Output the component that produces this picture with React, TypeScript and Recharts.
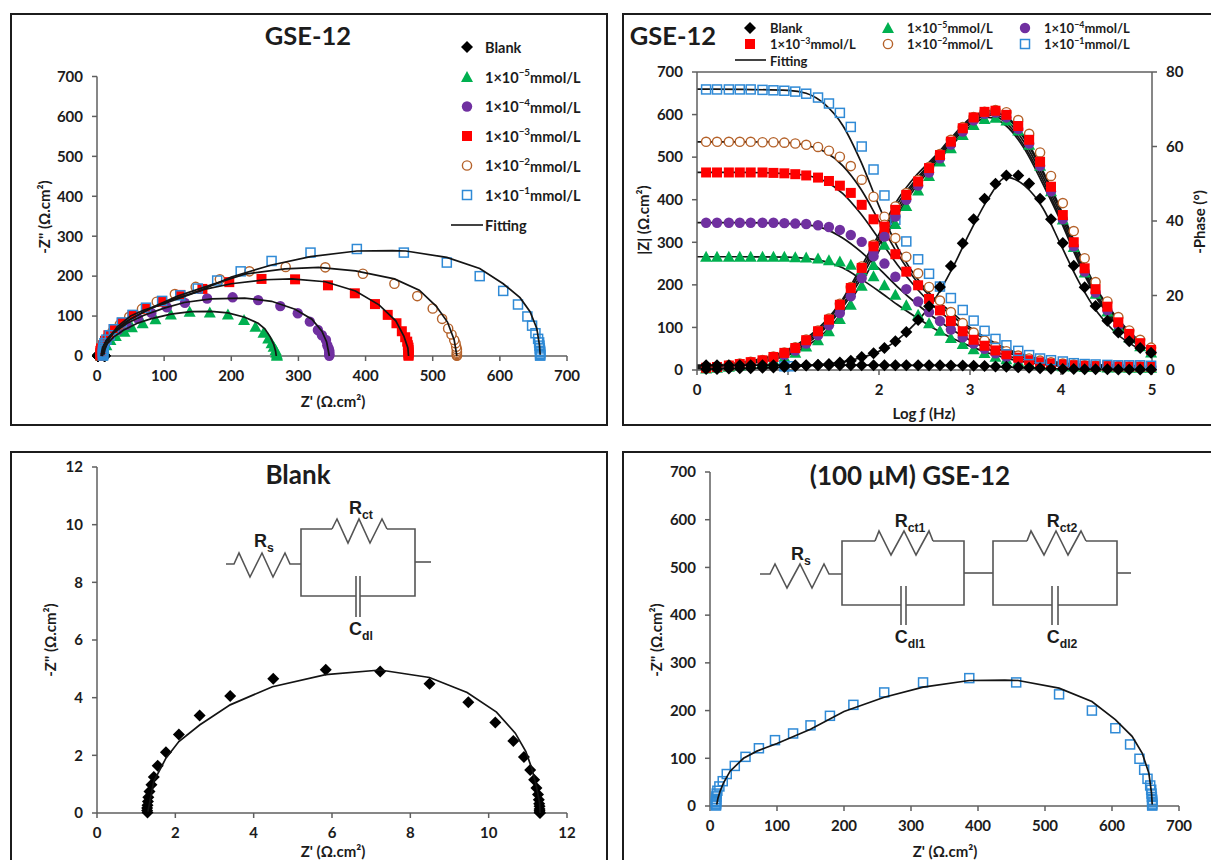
import React from "react";
import { ComposedChart, Line, ReferenceLine, Scatter, XAxis, YAxis } from "recharts";

type Pt = [number, number];

// Nyquist points, low frequency side and high frequency side joined in scan order
const nyqBlank: Pt[] = [
  [11.31, 0], [11.3, 0.03], [11.3, 0.08], [11.3, 0.14], [11.3, 0.23], [11.29, 0.32], [11.28, 0.46], [11.26, 0.64], [11.22, 0.87],
  [11.16, 1.15], [11.06, 1.49], [10.9, 1.94], [10.63, 2.5], [10.17, 3.14], [9.48, 3.84], [8.49, 4.48], [7.23, 4.91], [5.84, 4.97],
  [4.5, 4.66], [3.4, 4.06], [2.62, 3.38], [2.09, 2.72], [1.76, 2.11], [1.55, 1.64], [1.45, 1.25], [1.39, 0.98], [1.34, 0.75],
  [1.31, 0.55], [1.3, 0.4], [1.29, 0.27], [1.28, 0.17], [1.28, 0.09], [1.29, 0.02],
];
const nyqGreen: Pt[] = [
  [268, 0.5], [268, 4], [267, 8], [266, 15], [263, 23], [260, 32], [255, 44], [248, 58], [236, 73], [219, 90], [195, 104], [168, 109],
  [138, 111], [110, 104], [87, 92], [68, 82], [52, 72], [41, 61], [28, 50], [20, 40], [14, 27], [10, 19], [8, 11], [6, 5], [6, 0.5],
];
const nyqPurple: Pt[] = [
  [346, 0.5], [346, 4], [346, 8], [346, 13], [345, 19], [343, 27], [341, 40], [335, 52], [329, 65], [317, 86], [299, 107], [273, 125],
  [240, 140], [202, 147], [164, 144], [131, 133], [104, 122], [81, 108], [61, 94], [44, 78], [31, 65], [20, 52], [13, 40], [9, 27],
  [7, 19], [6, 13], [5, 8], [5, 4], [5, 1],
];
const nyqRed: Pt[] = [
  [464, 0.5], [464, 3], [464, 7], [464, 11], [464, 15], [464, 21], [463, 27], [462, 36], [459, 47], [454, 62], [446, 82], [433, 103],
  [414, 130], [384, 157], [344, 177], [295, 192], [245, 193], [197, 185], [157, 168], [124, 153], [97, 136], [73, 119], [53, 102],
  [37, 83], [25, 67], [17, 52], [12, 38], [9, 27], [6, 19], [5, 13], [5, 8], [5, 4], [5, 1],
];
const nyqBrown: Pt[] = [
  [536, 0.5], [536, 2], [536, 5], [536, 8], [536, 12], [536, 17], [535, 23], [534, 32], [532, 40], [528, 54], [523, 69], [514, 93],
  [500, 119], [477, 150], [443, 181], [396, 206], [340, 222], [281, 223], [227, 212], [183, 192], [147, 173], [116, 155], [89, 136],
  [67, 118], [48, 98], [34, 79], [23, 61], [16, 48], [12, 36], [9, 27], [8, 19], [7, 13], [7, 8], [7, 4], [7, 1],
];
const nyqBlue: Pt[] = [
  [660, 1], [660, 2], [660, 5], [660, 9], [660, 13], [659.5, 19], [659, 26], [658.5, 34], [657, 43], [653, 57], [648, 76], [641, 99],
  [627, 129], [605, 163], [570, 200], [521, 234], [457, 259], [387, 268], [318, 259], [260, 238], [214, 212], [179, 189], [150, 169],
  [124, 152], [97, 138], [73, 121], [53, 103], [37, 84], [25, 67], [19, 52], [14, 41], [11, 32], [10, 26], [9.5, 20], [9, 15], [9, 11],
  [9, 8], [9, 5], [9, 3], [9, 1],
];

// Fitted curves of the Nyquist plots
const fitNyqBlank: Pt[] = [
  [1.3, 0.05], [1.35, 0.4], [1.45, 1.1], [1.76, 1.9], [2.09, 2.48], [2.62, 3.05], [3.4, 3.75], [4.48, 4.38], [5.84, 4.8], [7.23, 4.96],
  [8.49, 4.7], [9.45, 4.18], [10.2, 3.5], [10.68, 2.77], [10.95, 2.13], [11.1, 1.55], [11.22, 0.92], [11.3, 0.35], [11.31, 0],
];
const fitNyqGreen: Pt[] = [
  [8, 0], [10, 15], [15, 30], [25, 48], [40, 65], [60, 82], [80, 93], [110, 105], [140, 111], [170, 112], [195, 108], [220, 97],
  [240, 82], [250, 68], [258, 48], [263, 30], [266, 12], [267, 0],
];
const fitNyqPurple: Pt[] = [
  [7, 0], [9, 20], [14, 38], [25, 58], [45, 82], [70, 102], [100, 120], [130, 134], [170, 143], [220, 145], [260, 137], [295, 117],
  [320, 92], [335, 62], [342, 35], [346, 0],
];
const fitNyqRed: Pt[] = [
  [6, 0], [8, 20], [14, 40], [25, 62], [45, 88], [75, 115], [110, 140], [160, 167], [200, 181], [250, 191], [290, 193], [340, 186],
  [385, 163], [420, 128], [445, 88], [457, 50], [463, 20], [464, 0],
];
const fitNyqBrown: Pt[] = [
  [7, 0], [9, 20], [15, 40], [28, 65], [50, 92], [80, 120], [120, 150], [170, 178], [220, 205], [280, 218], [330, 222], [385, 213],
  [443, 193], [480, 165], [505, 125], [522, 85], [532, 40], [536, 0],
];
const fitNyqBlue: Pt[] = [
  [10, 3], [12, 17], [15, 31], [20, 48], [30, 73], [50, 100], [70, 115], [100, 131], [150, 161], [200, 198], [260, 228], [318, 249],
  [387, 263], [440, 264], [460, 263], [521, 247], [570, 219], [605, 181], [630, 146], [645, 111], [655, 69], [659, 27], [660, 3],
];

// Bode plot, measured
const logF = [
  0.1, 0.22, 0.35, 0.47, 0.59, 0.72, 0.84, 0.96, 1.08, 1.2, 1.33, 1.45, 1.57, 1.69, 1.81, 1.94, 2.06, 2.18, 2.3, 2.43, 2.55, 2.67, 2.79,
  2.92, 3.04, 3.16, 3.28, 3.4, 3.53, 3.65, 3.77, 3.89, 4.02, 4.14, 4.26, 4.38, 4.51, 4.63, 4.75, 4.87, 4.99,
];
const zBlank = [
  11.4, 11.4, 11.4, 11.4, 11.4, 11.4, 11.4, 11.4, 11.4, 11.4, 11.4, 11.4, 11.4, 11.3, 11.3, 11.3, 11.3, 11.3, 11.2, 11.1, 11, 10.9, 10.7,
  10.4, 10, 9.5, 8.5, 7.5, 6.2, 5, 4, 3.2, 2.6, 2.2, 1.9, 1.7, 1.5, 1.4, 1.4, 1.3, 1.3,
];
const zGreen = [
  266, 266, 266, 266, 266, 266, 266, 266, 265, 264, 262, 258, 255, 247, 234, 220, 199, 177, 152, 130, 110, 92, 75, 61, 49, 40, 31, 25, 20,
  16, 13, 11, 9, 8, 7, 7, 6, 6, 5, 5, 5,
];
const zPurple = [
  346, 346, 346, 346, 346, 346, 346, 345, 344, 343, 340, 336, 329, 317, 301, 277, 250, 219, 190, 161, 136, 115, 95, 77, 62, 50, 39, 31,
  25, 20, 16, 13, 11, 10, 9, 8, 8, 7, 7, 7, 7,
];
const zRed = [
  464, 464, 464, 464, 464, 464, 463, 462, 460, 457, 452, 444, 433, 416, 388, 354, 316, 272, 231, 199, 167, 140, 115, 91, 71, 57, 46, 37,
  29, 23, 18, 15, 13, 11, 10, 9, 9, 8, 8, 8, 8,
];
const zBrown = [
  536, 536, 536, 536, 536, 535, 535, 534, 532, 529, 524, 515, 501, 479, 447, 407, 360, 310, 266, 227, 195, 163, 136, 110, 88, 69, 55, 44,
  34, 27, 22, 18, 15, 13, 11, 10, 9, 9, 8, 8, 8,
];
const zBlue = [
  659, 659, 659, 659, 659, 658, 657, 656, 654, 649, 640, 626, 604, 571, 525, 471, 410, 353, 302, 260, 226, 196, 169, 141, 116, 92, 73, 58,
  45, 35, 27, 23, 20, 16, 14, 13, 12, 11, 11, 11, 10,
];
const phaseBlank = [
  0.3, 0.3, 0.4, 0.5, 0.5, 0.6, 0.7, 0.8, 1, 1.2, 1.4, 1.6, 2, 2.5, 3.5, 4.5, 5.9, 7.7, 10.2, 13.4, 17.1, 22.3, 27.9, 34, 40.5, 46, 50,
  52.2, 52.2, 50.1, 46, 40.5, 34.1, 28, 22.2, 17.2, 13.2, 10.1, 7.7, 5.9, 4.6,
];
const phaseGreen = [
  0.4, 0.6, 0.9, 1.2, 1.6, 2, 2.6, 3.5, 4.6, 6.3, 8, 10.4, 13.7, 17.5, 22.6, 28.2, 33.6, 39.2, 44, 48.2, 52.1, 56, 59.5, 63.1, 65.8, 67.4,
  67.7, 67, 64.3, 60.5, 54.8, 48, 40.4, 33, 26.2, 20.5, 15.7, 11.7, 8.7, 6.4, 4.7,
];
const phasePurple = [
  0.5, 0.7, 1, 1.4, 1.8, 2.3, 3, 4, 5.2, 7.1, 9.3, 12, 15.3, 19.8, 24.7, 30.5, 35.8, 41.2, 45.7, 49.5, 53, 56.8, 60.5, 64, 67, 68.8, 69.1,
  67.8, 64.7, 60.8, 54.8, 48, 40.5, 33.2, 26.4, 20.8, 16, 12, 9, 6.7, 5,
];
const phaseRed = [
  0.6, 0.8, 1.2, 1.6, 2.1, 2.6, 3.5, 4.6, 5.9, 8, 10.4, 13.5, 17.5, 22, 27.4, 33.2, 38.5, 43, 47, 50.6, 54.2, 57.7, 61.3, 64.9, 67.8,
  69.3, 69.6, 68.5, 65.5, 61.8, 55.9, 49.2, 41.6, 34.3, 27.3, 21.7, 17, 12.8, 9.7, 7.2, 5.4,
];
const phaseBrown = [
  0.6, 0.9, 1.3, 1.7, 2.2, 2.7, 3.6, 4.7, 6.1, 8.2, 10.6, 13.8, 17.8, 22.3, 27.8, 33.6, 39, 43.9, 47.5, 51, 54.5, 58, 61.8, 65.2, 67.9,
  69.3, 69.8, 69.2, 67.1, 63.4, 58.4, 52.1, 44.8, 37.3, 30, 23.6, 18.4, 14.2, 10.6, 8.1, 6,
];
// the only blue marks visible along the bottom of the phase series
const phaseBlueX = [0.96, 1.02];
const phaseBlue = [1, 1];

// Bode plot, fitted
const fitLogF = [0, 0.5, 1, 1.2, 1.4, 1.6, 1.8, 2, 2.2, 2.4, 2.6, 2.8, 3, 3.2, 3.4, 3.6, 3.8, 4, 4.2, 4.4, 4.6, 4.87];
const fitZBlank = [11.4, 11.4, 11.4, 11.4, 11.3, 11.3, 11.3, 11.2, 11.1, 11, 10.9, 10.7, 10.2, 9, 6.8, 4.8, 3.3, 2.4, 1.9, 1.6, 1.4, 1.3];
const fitZGreen = [266, 266, 265, 262, 255, 240, 214, 185, 154, 125, 98, 75, 56, 40, 28, 19, 13, 9, 7, 6, 5, 5];
const fitZPurple = [346, 346, 344, 341, 332, 310, 278, 238, 196, 158, 124, 95, 70, 49, 34, 24, 17, 12, 9, 8, 7, 7];
const fitZRed = [464, 464, 461, 457, 444, 415, 367, 308, 248, 195, 150, 115, 85, 60, 42, 29, 20, 14, 11, 9, 8, 8];
const fitZBrown = [536, 536, 534, 528, 513, 480, 425, 350, 275, 212, 165, 128, 95, 68, 47, 33, 23, 16, 12, 10, 9, 8];
const fitZBlue = [660, 659, 657, 650, 625, 575, 490, 385, 290, 220, 170, 135, 100, 72, 50, 35, 24, 17, 13, 12, 11, 10];
const fitPhaseBlank = [0.3, 0.4, 0.8, 1.1, 1.5, 2.2, 3.3, 5, 8, 12.5, 18.5, 27, 37, 46, 51.7, 49.5, 43.5, 33.5, 23.5, 15.5, 10, 5.5];
const fitPhaseGreen = [0.5, 1.4, 4, 6.3, 10, 15.5, 23, 32, 41.5, 49, 54.8, 60.3, 65.3, 67.8, 65.5, 59.3, 50, 39.8, 28.5, 19, 12.5, 6];
const fitPhasePurple = [0.6, 1.6, 4.4, 7, 11, 16.8, 24.5, 33.5, 42.5, 49.8, 55.5, 61, 66, 68.5, 66.3, 60, 51, 40.5, 29.2, 19.5, 13, 6.4];
const fitPhaseRed = [0.7, 1.8, 4.8, 7.5, 11.5, 17.5, 25.5, 34.5, 43.5, 50.5, 56, 61.5, 66.5, 69, 67, 61, 52, 41.5, 30, 20, 13.5, 6.8];
const fitPhaseBrown = [0.8, 2, 5.2, 8, 12.2, 18.5, 26.5, 35.5, 44.5, 51, 56.5, 62, 67, 69.5, 67.8, 62, 53, 42.5, 31, 21, 14, 7.2];
const fitPhaseBlue = [0.9, 2.1, 5.5, 8.5, 12.8, 19, 27.5, 36.5, 45.5, 52, 57, 62.5, 67.5, 69.5, 68, 62.5, 53.5, 43, 31.5, 21.5, 14.5, 7.5];

const zTicks = [0, 100, 200, 300, 400, 500, 600, 700];
const blankTicks = [0, 2, 4, 6, 8, 10, 12];
const logTicks = [0, 1, 2, 3, 4, 5];
const phaseTicks = [0, 20, 40, 60, 80];

const concentrations = [
  { kind: "triangle", exp: "−5" },
  { kind: "circle", exp: "−4" },
  { kind: "square", exp: "−3" },
  { kind: "ring", exp: "−2" },
  { kind: "box", exp: "−1" },
];

const FONT = "Lato, 'Open Sans', sans-serif";
const INK = "#1c1c1c";
const AXIS = "#5f5f5f";
const FIT = "#141414";

const zip = (xs: number[], ys: number[]) => ys.map((y, i) => ({ x: xs[i], y }));
const pts = (list: Pt[]) => list.map(([x, y]) => ({ x, y }));

function Marker({ kind, cx, cy }: { kind: string; cx: number; cy: number }) {
  switch (kind) {
    case "diamond":
      return <path d={`M${cx} ${cy - 6}L${cx + 6} ${cy}L${cx} ${cy + 6}L${cx - 6} ${cy}Z`} fill="#000" />;
    case "triangle":
      return <path d={`M${cx} ${cy - 6}L${cx + 6} ${cy + 5}L${cx - 6} ${cy + 5}Z`} fill="#00b050" />;
    case "circle":
      return <circle cx={cx} cy={cy} r={5.2} fill="#7030a0" />;
    case "square":
      return <rect x={cx - 5} y={cy - 5} width={10} height={10} fill="#ff0000" />;
    case "ring":
      return <circle cx={cx} cy={cy} r={4.6} fill="#fff" stroke="#b5622a" strokeWidth={1.4} />;
    default:
      return <rect x={cx - 4.5} y={cy - 4.5} width={9} height={9} fill="none" stroke="#2f8ad6" strokeWidth={1.5} />;
  }
}

const shape = (kind: string) => (p: any) => <Marker kind={kind} cx={p.cx} cy={p.cy} />;
const noDot = () => <g />;

const tick = { fontFamily: FONT, fontSize: 15, fontWeight: 700, fill: INK };
const axisProps = {
  stroke: AXIS,
  strokeWidth: 1.5,
  tick,
  tickSize: 5,
  tickMargin: 9,
  tickLine: { stroke: AXIS, strokeWidth: 1.5 },
  interval: 0 as const,
};

function Nyquist({ box, margin, ticks, yTicks, points, fits }: any) {
  const xMax = ticks[ticks.length - 1];
  const yMax = yTicks[yTicks.length - 1];
  return (
    <div style={{ position: "absolute", left: box[0], top: box[1] }}>
      <ComposedChart width={box[2]} height={box[3]} margin={margin}>
        <XAxis {...axisProps} type="number" dataKey="x" domain={[0, xMax]} ticks={ticks} height={30} />
        <YAxis {...axisProps} type="number" dataKey="y" domain={[0, yMax]} ticks={yTicks} width={40} />
        {points.map(([kind, data]: any, i: number) => (
          <Scatter key={i} data={pts(data)} shape={shape(kind)} isAnimationActive={false} />
        ))}
        {fits.map((data: Pt[], i: number) => (
          <Scatter
            key={`fit${i}`}
            data={pts(data)}
            shape={noDot}
            line={{ stroke: FIT, strokeWidth: 1.7 }}
            lineType="joint"
            isAnimationActive={false}
          />
        ))}
      </ComposedChart>
    </div>
  );
}

function Bode() {
  const measured: [string, number[], number[], string][] = [
    ["ring", logF, zBrown, "z"],
    ["triangle", logF, zGreen, "z"],
    ["circle", logF, zPurple, "z"],
    ["square", logF, zRed, "z"],
    ["box", logF, zBlue, "z"],
    ["triangle", logF, phaseGreen, "p"],
    ["circle", logF, phasePurple, "p"],
    ["ring", logF, phaseBrown, "p"],
    ["square", logF, phaseRed, "p"],
    ["box", phaseBlueX, phaseBlue, "p"],
    ["diamond", logF, zBlank, "z"],
    ["diamond", logF, phaseBlank, "p"],
  ];
  const fitted: [number[], string][] = [
    [fitZBlank, "z"], [fitZGreen, "z"], [fitZPurple, "z"], [fitZRed, "z"], [fitZBrown, "z"], [fitZBlue, "z"],
    [fitPhaseBlank, "p"], [fitPhaseGreen, "p"], [fitPhasePurple, "p"], [fitPhaseRed, "p"], [fitPhaseBrown, "p"], [fitPhaseBlue, "p"],
  ];
  return (
    <div style={{ position: "absolute", left: 622, top: 13 }}>
      <ComposedChart width={589} height={413} margin={{ left: 35, right: 29, top: 59, bottom: 26 }}>
        <XAxis {...axisProps} type="number" dataKey="x" domain={[0, 5]} ticks={logTicks} height={30} />
        <YAxis {...axisProps} yAxisId="z" type="number" dataKey="y" domain={[0, 700]} ticks={zTicks} width={40} />
        <YAxis {...axisProps} yAxisId="p" orientation="right" type="number" dataKey="y" domain={[0, 80]} ticks={phaseTicks} width={30} />
        <ReferenceLine yAxisId="z" y={700} stroke={AXIS} strokeWidth={1.5} />
        {measured.map(([kind, xs, ys, axis], i) => (
          <Scatter key={i} yAxisId={axis} data={zip(xs, ys)} shape={shape(kind)} isAnimationActive={false} />
        ))}
        {fitted.map(([ys, axis], i) => (
          <Line
            key={`fit${i}`}
            yAxisId={axis}
            data={zip(fitLogF, ys)}
            dataKey="y"
            type="monotone"
            stroke={FIT}
            strokeWidth={1.7}
            dot={false}
            activeDot={false}
            legendType="none"
            isAnimationActive={false}
          />
        ))}
      </ComposedChart>
    </div>
  );
}

function Conc({ x, y, exp, size }: { x: number; y: number; exp: string; size: number }) {
  return (
    <text x={x} y={y} fontSize={size} dominantBaseline="central">
      1×10
      <tspan fontSize={size * 0.68} dy={-size * 0.32}>{exp}</tspan>
      <tspan dy={size * 0.32}>mmol/L</tspan>
    </text>
  );
}

function Sub({ x, y, main, sub, size = 18 }: any) {
  return (
    <text x={x} y={y} fontSize={size} textAnchor="middle" fontFamily="'Liberation Sans', Arial, sans-serif" fontWeight={700}>
      {main}
      <tspan fontSize={size * 0.68} dy={size * 0.26}>{sub}</tspan>
    </text>
  );
}

const zigzag = (p: number[][]) => p.map((q) => q.join(",")).join(" ");

// Labels, legends, titles and the two equivalent circuits sit on one overlay
function Overlay() {
  const wire = { fill: "none", stroke: "#555", strokeWidth: 1.6 };
  return (
    <svg width={1211} height={860} style={{ position: "absolute", left: 0, top: 0 }} fontFamily={FONT} fontWeight={700} fill={INK}>
      {/* titles */}
      <g textAnchor="middle" dominantBaseline="central">
        <text x={308} y={35} fontSize={25.5}>GSE-12</text>
        <text x={673} y={35} fontSize={25.5}>GSE-12</text>
        <text x={298} y={474} fontSize={26}>Blank</text>
        <text x={910} y={475} fontSize={26}>(100 μM) GSE-12</text>
      </g>

      {/* legend, top left */}
      <g fontSize={14.5}>
        <Marker kind="diamond" cx={467} cy={47} />
        <text x={485} y={47} dominantBaseline="central">Blank</text>
        {concentrations.map((c, i) => (
          <g key={c.exp}>
            <Marker kind={c.kind} cx={467} cy={77 + i * 29.5} />
            <Conc x={485} y={77 + i * 29.5} exp={c.exp} size={14.5} />
          </g>
        ))}
        <line x1={451} x2={483} y1={225} y2={225} stroke={FIT} strokeWidth={1.6} />
        <text x={485} y={225} dominantBaseline="central">Fitting</text>
      </g>

      {/* legend, top right */}
      <g fontSize={13}>
        <Marker kind="diamond" cx={750} cy={28} />
        <text x={770} y={28} dominantBaseline="central">Blank</text>
        <Marker kind="triangle" cx={888} cy={28} />
        <Conc x={907} y={28} exp="−5" size={13} />
        <Marker kind="circle" cx={1025} cy={28} />
        <Conc x={1044} y={28} exp="−4" size={13} />
        <Marker kind="square" cx={750} cy={44} />
        <Conc x={770} y={44} exp="−3" size={13} />
        <Marker kind="ring" cx={888} cy={44} />
        <Conc x={907} y={44} exp="−2" size={13} />
        <Marker kind="box" cx={1025} cy={44} />
        <Conc x={1044} y={44} exp="−1" size={13} />
        <line x1={735} x2={766} y1={60} y2={60} stroke={FIT} strokeWidth={1.6} />
        <text x={770} y={61} dominantBaseline="central">Fitting</text>
      </g>

      {/* axis titles */}
      <g fontSize={15} textAnchor="middle" dominantBaseline="central">
        <text x={333} y={401}>Z' (Ω.cm²)</text>
        <text transform="translate(44 217) rotate(-90)">-Z'' (Ω.cm²)</text>
        <text x={924} y={413}>Log ƒ (Hz)</text>
        <text transform="translate(643 220) rotate(-90)">|Z| (Ω.cm²)</text>
        <text transform="translate(1199 222) rotate(-90)">-Phase (°)</text>
        <text x={333} y={851}>Z' (Ω.cm²)</text>
        <text transform="translate(50 640) rotate(-90)">-Z'' (Ω.cm²)</text>
        <text x={945} y={851}>Z' (Ω.cm²)</text>
        <text transform="translate(656 640) rotate(-90)">-Z'' (Ω.cm²)</text>
      </g>

      {/* Rs(Rct Cdl) */}
      <g {...wire}>
        <polyline points={zigzag([[226, 564], [234, 564], [239, 553], [250, 577], [262, 553], [273, 577], [285, 553], [290, 564], [301, 564]])} />
        <polyline points={zigzag([[332, 529], [301, 529], [301, 596], [356, 596]])} />
        <polyline points={zigzag([[387, 529], [415, 529], [415, 596], [360, 596]])} />
        <polyline points={zigzag([[332, 529], [337, 519], [348, 543], [359, 519], [370, 543], [382, 519], [387, 529]])} />
        <line x1={415} x2={431} y1={562} y2={562} />
        <line x1={356} x2={356} y1={576} y2={617} />
        <line x1={360} x2={360} y1={576} y2={617} />
      </g>
      <Sub x={361} y={514} main="R" sub="ct" />
      <Sub x={264} y={547} main="R" sub="s" />
      <Sub x={361} y={635} main="C" sub="dl" />

      {/* Rs(Rct1 Cdl1)(Rct2 Cdl2) */}
      <g {...wire}>
        <polyline points={zigzag([[760, 574], [770, 574], [775, 564], [787, 588], [800, 564], [812, 588], [824, 564], [829, 574], [842, 574]])} />
        <polyline points={zigzag([[875, 541], [842, 541], [842, 605], [901, 605]])} />
        <polyline points={zigzag([[933, 541], [964, 541], [964, 605], [906, 605]])} />
        <polyline points={zigzag([[875, 541], [879, 531], [891, 555], [904, 531], [916, 555], [929, 531], [933, 541]])} />
        <line x1={901} x2={901} y1={586} y2={625} />
        <line x1={906} x2={906} y1={586} y2={625} />
        <line x1={964} x2={993} y1={573} y2={573} />
        <polyline points={zigzag([[1027, 541], [993, 541], [993, 605], [1052, 605]])} />
        <polyline points={zigzag([[1086, 541], [1117, 541], [1117, 605], [1058, 605]])} />
        <polyline points={zigzag([[1027, 541], [1031, 531], [1044, 555], [1056, 531], [1068, 555], [1081, 531], [1086, 541]])} />
        <line x1={1052} x2={1052} y1={586} y2={625} />
        <line x1={1058} x2={1058} y1={586} y2={625} />
        <line x1={1117} x2={1131} y1={573} y2={573} />
      </g>
      <Sub x={910} y={527} main="R" sub="ct1" />
      <Sub x={1062} y={527} main="R" sub="ct2" />
      <Sub x={801} y={560} main="R" sub="s" />
      <Sub x={910} y={643} main="C" sub="dl1" />
      <Sub x={1062} y={643} main="C" sub="dl2" />
    </svg>
  );
}

function Frame({ x, y, w, h }: { x: number; y: number; w: number; h: number }) {
  return (
    <div style={{ position: "absolute", left: x, top: y, width: w, height: h, boxSizing: "border-box", border: "2px solid #1c1c1c" }} />
  );
}

export default function App() {
  return (
    <div style={{ position: "fixed", left: 0, top: 0, width: 1211, height: 860, overflow: "hidden", background: "#fff" }}>
      <Frame x={10} y={13} w={598} h={413} />
      <Frame x={622} y={13} w={620} h={413} />
      <Frame x={10} y={451} w={598} h={430} />
      <Frame x={622} y={451} w={620} h={430} />
      <Nyquist
        box={[10, 13, 598, 413]}
        margin={{ left: 47, right: 41, top: 63.5, bottom: 40 }}
        ticks={zTicks}
        yTicks={zTicks}
        points={[
          ["diamond", nyqBlank],
          ["triangle", nyqGreen],
          ["circle", nyqPurple],
          ["ring", nyqBrown],
          ["square", nyqRed],
          ["box", nyqBlue],
        ]}
        fits={[fitNyqGreen, fitNyqPurple, fitNyqRed, fitNyqBrown, fitNyqBlue]}
      />
      <Bode />
      <Nyquist
        box={[10, 451, 598, 409]}
        margin={{ left: 47, right: 41, top: 16, bottom: 17 }}
        ticks={blankTicks}
        yTicks={blankTicks}
        points={[["diamond", nyqBlank]]}
        fits={[fitNyqBlank]}
      />
      <Nyquist
        box={[622, 451, 589, 409]}
        margin={{ left: 48, right: 32, top: 21, bottom: 24 }}
        ticks={zTicks}
        yTicks={zTicks}
        points={[["box", nyqBlue]]}
        fits={[fitNyqBlue]}
      />
      <Overlay />
    </div>
  );
}
